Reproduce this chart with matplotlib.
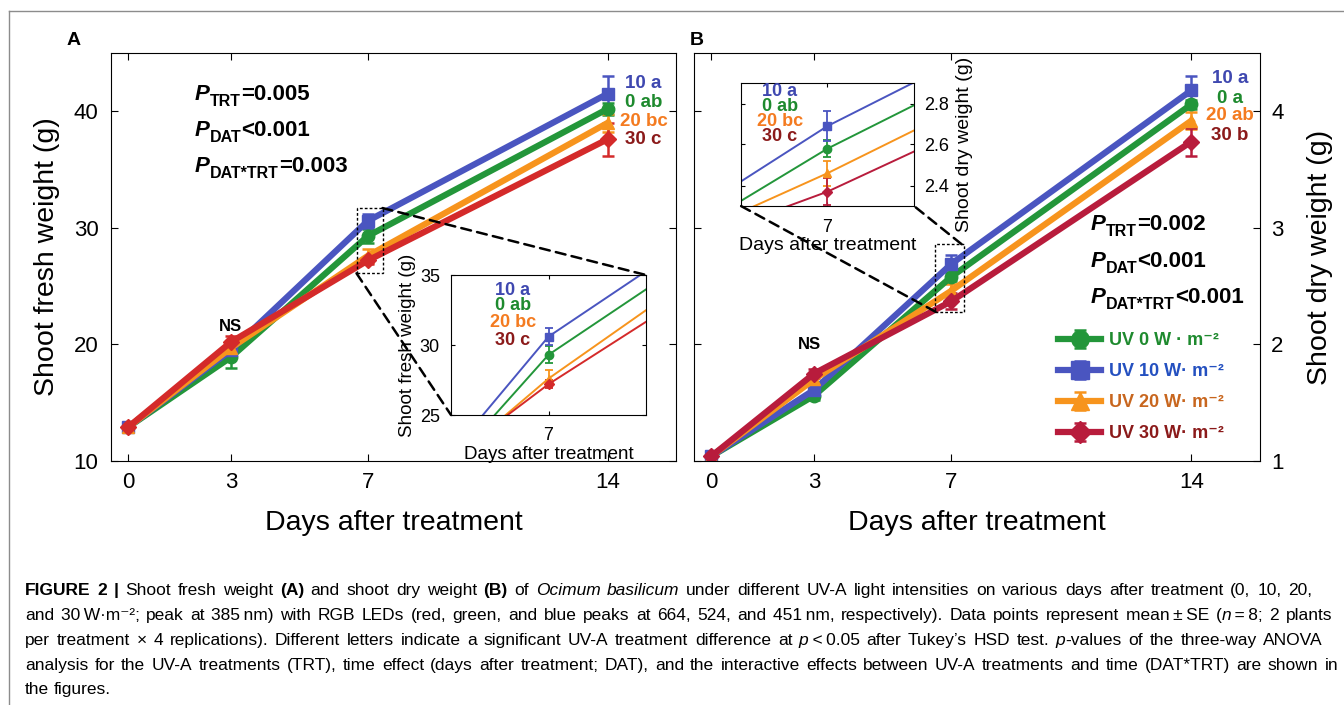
import matplotlib
matplotlib.use('Agg')
import matplotlib.pyplot as plt
from matplotlib.patches import Rectangle, ConnectionPatch
from matplotlib.lines import Line2D

plt.rcParams['font.family'] = ['Liberation Sans', 'DejaVu Sans']

# ---- data ----
days = [0, 3, 7, 14]

fresh_0 = [12.9, 18.9, 29.3, 40.2]
fresh_10 = [12.9, 19.5, 30.6, 41.5]
fresh_20 = [12.9, 19.7, 27.6, 39.0]
fresh_30 = [12.9, 20.2, 27.2, 37.6]
fresh_0_se = [0.3, 0.9, 0.6, 0.5]
fresh_10_se = [0.3, 0.5, 0.6, 1.5]
fresh_20_se = [0.3, 0.5, 0.6, 0.8]
fresh_30_se = [0.3, 0.5, 0.3, 1.4]

dry_0 = [1.04, 1.56, 2.58, 4.06]
dry_10 = [1.04, 1.61, 2.69, 4.18]
dry_20 = [1.04, 1.70, 2.46, 3.92]
dry_30 = [1.04, 1.75, 2.37, 3.74]
dry_0_se = [0.02, 0.04, 0.04, 0.04]
dry_10_se = [0.02, 0.06, 0.075, 0.12]
dry_20_se = [0.02, 0.04, 0.06, 0.07]
dry_30_se = [0.02, 0.04, 0.067, 0.12]

legend_labels = ['UV 0 W · m⁻²', 'UV 10 W· m⁻²', 'UV 20 W· m⁻²', 'UV 30 W· m⁻²']
letters_fresh = ['0 ab', '10 a', '20 bc', '30 c']
letters_dry = ['0 a', '10 a', '20 ab', '30 b']
inset_letters = ['10 a', '0 ab', '20 bc', '30 c']
p_fresh = [('TRT', '=0.005'), ('DAT', '<0.001'), ('DAT*TRT', '=0.003')]
p_dry = [('TRT', '=0.002'), ('DAT', '<0.001'), ('DAT*TRT', '<0.001')]

colors_a = ['#23963a', '#4a55c0', '#f7941d', '#d42a2a']
colors_b = ['#23963a', '#4a55c0', '#f7941d', '#b81c3c']
text_colors = ['#1e8a2e', '#3f48b0', '#f47b20', '#8b1a1a']
markers = ['o', 's', '^', 'D']

W, H = 1344, 705
fig = plt.figure(figsize=(W / 100, H / 100), dpi=100)


def fx(px):
    return px / W


def fy(py):
    return 1 - py / H


# frame around figure
fig.add_artist(Line2D([fx(9), fx(9)], [fy(11), 0], color='#8c8c8c', lw=1))
fig.add_artist(Line2D([fx(9), 1], [fy(11), fy(11)], color='#8c8c8c', lw=1))

axA = fig.add_axes([fx(111), fy(461), (676 - 111) / W, (461 - 53) / H])
axB = fig.add_axes([fx(694), fy(461), (1260 - 694) / W, (461 - 53) / H])

fresh = [fresh_0, fresh_10, fresh_20, fresh_30]
fresh_se = [fresh_0_se, fresh_10_se, fresh_20_se, fresh_30_se]
dry = [dry_0, dry_10, dry_20, dry_30]
dry_se = [dry_0_se, dry_10_se, dry_20_se, dry_30_se]


def draw_series(ax, means, ses, colors, lw, ms, cap, elw):
    handles = []
    for m, e, c, mk in zip(means, ses, colors, markers):
        h = ax.errorbar(days, m, yerr=e, color=c, marker=mk,
                        ms=ms * (0.85 if mk == 'D' else 1), lw=lw,
                        elinewidth=elw, capsize=cap, capthick=elw)
        handles.append(h)
    return handles


draw_series(axA, fresh, fresh_se, colors_a, 4.5, 9, 4, 1.8)
hB = draw_series(axB, dry, dry_se, colors_b, 4.5, 9, 4, 1.8)

for ax in (axA, axB):
    ax.set_xlim(-0.5, 16)
    ax.set_xticks(days)
    ax.tick_params(direction='in', top=True, right=True, left=True,
                   labelsize=16, length=5, width=0.8)
    ax.tick_params(axis='x', pad=8)
    ax.set_xlabel('Days after treatment', fontsize=20.5, labelpad=12)

axA.set_ylim(10, 45)
axA.set_yticks([10, 20, 30, 40])
axA.tick_params(axis='y', pad=9)
axA.set_ylabel('Shoot fresh weight (g)', fontsize=20.5, labelpad=10)

axB.set_ylim(1, 4.5)
axB.set_yticks([1, 2, 3, 4])
axB.yaxis.tick_right()
axB.tick_params(axis='y', left=True, right=True, labelleft=False,
                labelright=True, pad=8)
axB.yaxis.set_label_position('right')
axB.set_ylabel('Shoot dry weight (g)', fontsize=20.5, labelpad=17)

# treatment letters at day 14
ya = [40.72, 42.35, 39.09, 37.54]
yb = [4.11, 4.28, 3.96, 3.79]
for lab, y, c in zip(letters_fresh, ya, text_colors):
    axA.text(15.05, y, lab, color=c, fontsize=13.5, weight='bold',
             ha='center', va='center')
for lab, y, c in zip(letters_dry, yb, text_colors):
    axB.text(15.12, y, lab, color=c, fontsize=13.5, weight='bold',
             ha='center', va='center')

axA.text(3.0, 21.5, 'NS', fontsize=12, weight='bold', ha='center', va='center')
axB.text(2.86, 2.0, 'NS', fontsize=12, weight='bold', ha='center', va='center')

# legend
leg = axB.legend(hB, legend_labels, loc='upper left', frameon=False,
                 bbox_to_anchor=(fx(1058), fy(332)), bbox_transform=fig.transFigure,
                 borderpad=0, borderaxespad=0, handlelength=2.4, handletextpad=0.45,
                 labelspacing=0.78, prop={'size': 13, 'weight': 'bold'},
                 markerscale=1.4)
for t, c in zip(leg.get_texts(), ['#1e8a2e', '#2450c0', '#c8661e', '#8b1a1a']):
    t.set_color(c)

inset_colors = [text_colors[1], text_colors[0], text_colors[2], text_colors[3]]

# ---- insets ----
axAi = fig.add_axes([fx(451), fy(415), 195 / W, 140 / H])
draw_series(axAi, fresh, fresh_se, colors_a, 1.4, 6, 3, 1.3)
axAi.set_xlim(4, 10)
axAi.set_ylim(25, 35)
axAi.set_xticks([7])
axAi.set_yticks([25, 30, 35])
axAi.tick_params(direction='in', top=True, right=True, labelsize=13, length=3)
axAi.tick_params(axis='x', pad=9)
axAi.tick_params(axis='y', pad=8)
axAi.set_xlabel('Days after treatment', fontsize=13.5, labelpad=1)
axAi.set_ylabel('Shoot fresh weight (g)', fontsize=13.5, labelpad=3)
for lab, y, c in zip(inset_letters, [33.9, 32.85, 31.6, 30.35], inset_colors):
    axAi.text(5.9, y, lab, color=c, fontsize=13, weight='bold', ha='center', va='center')

axBi = fig.add_axes([fx(741), fy(206), 173 / W, 123 / H])
draw_series(axBi, dry, dry_se, colors_b, 1.4, 6, 3, 1.3)
axBi.set_xlim(6, 8)
axBi.set_ylim(2.3, 2.9)
axBi.set_xticks([7])
axBi.set_yticks([2.4, 2.6, 2.8])
axBi.tick_params(direction='in', top=True, right=True, left=True, labelsize=13,
                 length=3, labelleft=False, labelright=True)
axBi.tick_params(axis='x', pad=9)
axBi.tick_params(axis='y', pad=7)
axBi.yaxis.set_label_position('right')
axBi.set_xlabel('Days after treatment', fontsize=14, labelpad=1)
axBi.set_ylabel('Shoot dry weight (g)', fontsize=14, labelpad=5)
for lab, y, c in zip(inset_letters, [2.86, 2.785, 2.71, 2.64], inset_colors):
    axBi.text(6.45, y, lab, color=c, fontsize=13, weight='bold', ha='center', va='center')

# zoom boxes and connectors
axA.add_patch(Rectangle((6.67, 26.1), 0.76, 5.6, fill=False, ec='k', ls=(0, (2, 1.5)),
                        lw=1.0, zorder=6))
axB.add_patch(Rectangle((6.54, 2.28), 0.83, 0.58, fill=False, ec='k', ls=(0, (2, 1.5)),
                        lw=1.0, zorder=6))
for xyA, xyB, axm, axi in [((7.43, 31.7), (1, 1), axA, axAi),
                           ((6.67, 26.1), (0, 0), axA, axAi),
                           ((6.54, 2.28), (0, 0), axB, axBi),
                           ((7.30, 2.86), (1, 0), axB, axBi)]:
    con = ConnectionPatch(xyA=xyA, coordsA='data', axesA=axm,
                          xyB=xyB, coordsB=axi.transAxes, axesB=axi,
                          color='k', lw=1.8, ls=(0, (4, 2.5)))
    fig.add_artist(con)

fig.text(fx(67), fy(45), 'A', fontsize=14, weight='bold')
fig.text(fx(690), fy(45), 'B', fontsize=14, weight='bold')

renderer = fig.canvas.get_renderer()


def advance(txt, kw):
    a = fig.text(0, 0, txt + '|', **kw)
    b = fig.text(0, 0, '|', **kw)
    w = a.get_window_extent(renderer).width - b.get_window_extent(renderer).width
    a.remove()
    b.remove()
    return w


def text_run(x, y, segs):
    for txt, kw, dy in segs:
        fig.text(fx(x), fy(y + dy), txt, va='baseline', ha='left', **kw)
        x += advance(txt, kw)


# p-value annotations
pb = dict(fontsize=16, weight='bold', style='italic')
pm = dict(fontsize=16, weight='bold')
ps = dict(fontsize=11.5, weight='bold')
for (sub, val), yb_ in zip(p_fresh, [100, 136, 172]):
    text_run(195, yb_, [('P', pb, 0), (sub, ps, 6), (val, pm, 0)])
for (sub, val), yb_ in zip(p_dry, [230, 267, 303]):
    text_run(1091, yb_, [('P', pb, 0), (sub, ps, 6), (val, pm, 0)])

# caption
cs = 12.5
cap = dict(fontsize=cs)
capb = dict(fontsize=cs, weight='bold')
capi = dict(fontsize=cs, style='italic')
caption_lines = [
    [('FIGURE 2', capb), (' | ', capb), ('Shoot fresh weight ', cap), ('(A)', capb),
     (' and shoot dry weight ', cap), ('(B)', capb), (' of ', cap), ('Ocimum basilicum', capi),
     (' under different UV-A light intensities on various days after treatment (0, 10, 20,', cap)],
    [('and 30\u2009W·m⁻²; peak at 385\u2009nm) with RGB LEDs (red, green, and blue peaks at 664, 524, '
      'and 451\u2009nm, respectively). Data points represent mean\u2009±\u2009SE (', cap),
     ('n', capi), ('\u2009=\u20098; 2 plants', cap)],
    [('per treatment × 4 replications). Different letters indicate a significant UV-A treatment '
      'difference at ', cap), ('p', capi), ('\u2009<\u20090.05 after Tukey’s HSD test. ', cap),
     ('p', capi), ('-values of the three-way ANOVA', cap)],
    [('analysis for the UV-A treatments (TRT), time effect (days after treatment; DAT), and the '
      'interactive effects between UV-A treatments and time (DAT*TRT) are shown in', cap)],
    [('the figures.', cap)],
]
line_ends = [1312, 1332, 1323, 1338, None]
baselines = [595, 620, 645, 670, 694]
space_w = advance(' ', cap)
for segs, x_end, yb_ in zip(caption_lines, line_ends, baselines):
    pieces = []
    for txt, kw in segs:
        parts = txt.split(' ')
        for i, p in enumerate(parts):
            if i > 0:
                pieces.append(None)
            if p:
                pieces.append((p, kw))
    n_sp = sum(1 for p in pieces if p is None)
    natural = sum(advance(p[0], p[1]) if p else space_w for p in pieces)
    extra = (x_end - 25 - natural) / n_sp if (x_end and n_sp) else 0
    x = 25
    for p in pieces:
        if p is None:
            x += space_w + extra
        else:
            fig.text(fx(x), fy(yb_), p[0], va='baseline', ha='left', **p[1])
            x += advance(p[0], p[1])

fig.savefig('out.png', dpi=100)
